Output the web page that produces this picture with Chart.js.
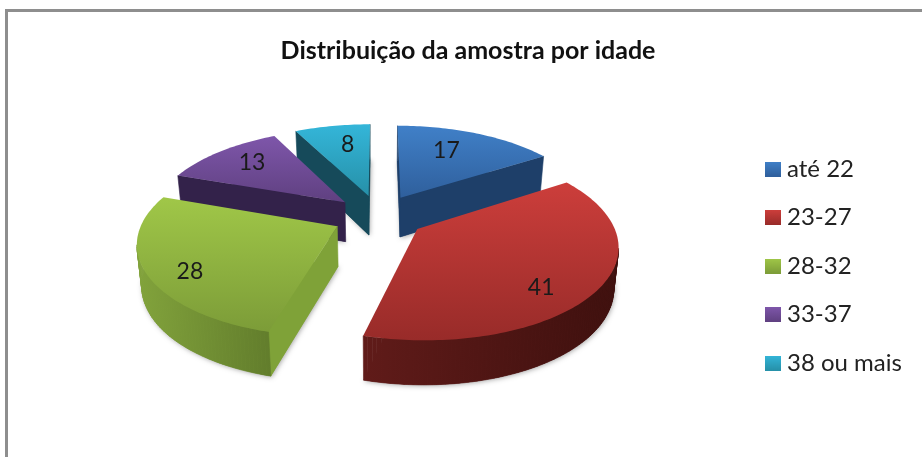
<!DOCTYPE html>
<html>
<head>
<meta charset="utf-8">
<script src="https://cdn.jsdelivr.net/npm/chart.js@4"></script>
<style>
html,body{margin:0;padding:0;background:#fff;overflow:hidden}
#wrap{position:relative;width:922px;height:457px}
canvas#c{position:absolute;left:0;top:0;filter:blur(.45px)}
#frame{position:absolute;left:5px;top:9px;right:-5px;bottom:-5px;border-top:3px solid #8e8e8e;border-left:3px solid #8e8e8e}
</style>
</head>
<body>
<div id="wrap"><canvas id="c" width="922" height="457"></canvas><div id="frame"></div></div>
<script>
const titleText = 'Distribuição da amostra por idade';
const categories = ['até 22', '23-27', '28-32', '33-37', '38 ou mais'];
const values = [17, 41, 28, 13, 8];

const legendColors = ['#3a70b5', '#b93533', '#8fb341', '#6c4a95', '#2aa3c2'];
const topLight  = ['#4080c8', '#cc3e3b', '#a0c748', '#7e56aa', '#34b6d9'];
const topDark   = ['#2f5f9c', '#982b29', '#7c9c38', '#5f4080', '#2690a8'];
const cutFace   = ['#1e3f69', '#601b19', '#7fa238', '#33224a', '#164a5a'];
const rimLeft   = ['#1e3f69', '#601b19', '#82a33c', '#33224a', '#164a5a'];
const rimRight  = ['#1e3f69', '#3e100e', '#526a24', '#33224a', '#164a5a'];
const labelNudge = [[-2,-7],[20,24],[-36,18],[-15,-8],[2,-7]];

// projection of the pie plane
const view = {cx:379, cy:216, a:193, b:89, p:0.16, explode:0.24};
const FONT = 'Lato, Carlito, sans-serif';

function project(X, Y){
  const s = 1/(1 - view.p*Y);
  return {x:view.cx + view.a*X*s, y:view.cy + view.b*Y*s, Y};
}
function lower(P){
  return {x:view.cx + (P.x-view.cx)*0.98, y:P.y + 40 + 4*P.Y};
}
function legendSwatch(i){
  const cv=document.createElement('canvas');
  cv.width=16; cv.height=15;
  const g=cv.getContext('2d');
  const gr=g.createLinearGradient(0,0,0,15);
  gr.addColorStop(0,topLight[i]); gr.addColorStop(1,topDark[i]);
  g.fillStyle=gr; g.fillRect(0,0,16,15);
  return cv;
}

const pie3d = {
  id:'pie3d',
  afterLayout(chart){
    const t = chart.titleBlock;
    t.left = 14; t.right = 922;
    const l = chart.legend;
    const w = l.width, h = l.height;
    const pad = l.options.labels.padding;
    l.left = 771 - pad; l.right = l.left + w;
    l.top = 266 - h/2; l.bottom = 266 + h/2;
    l.adjustHitBoxes();
  },
  beforeDatasetsDraw(chart){
    const ctx = chart.ctx;
    const arcs = chart.getDatasetMeta(0).data;
    const slices = arcs.map((arc,i)=>{
      const a0 = arc.startAngle, a1 = arc.endAngle, mid = (a0+a1)/2;
      const ox = Math.cos(mid)*view.explode, oy = Math.sin(mid)*view.explode;
      const apex = project(ox,oy);
      const rim = [];
      const n = Math.max(8, Math.ceil((a1-a0)/0.02));
      for(let k=0;k<=n;k++){
        const t = a0 + (a1-a0)*k/n;
        rim.push(project(ox+Math.cos(t), oy+Math.sin(t)));
      }
      return {i,mid,ox,oy,apex,rim};
    });
    slices.sort((p,q)=>Math.sin(p.mid)-Math.sin(q.mid));

    for(const s of slices){
      const {i,apex,rim} = s;
      const outline = [apex,...rim];
      const xs = outline.map(p=>p.x), ys = outline.map(p=>p.y);
      const xmin=Math.min(...xs), xmax=Math.max(...xs), ymin=Math.min(...ys), ymax=Math.max(...ys);

      // soft shadow under the extruded body
      ctx.save();
      ctx.shadowColor='rgba(0,0,0,.35)'; ctx.shadowBlur=5; ctx.shadowOffsetX=1; ctx.shadowOffsetY=1;
      ctx.fillStyle=cutFace[i];
      ctx.beginPath();
      outline.map(lower).forEach((p,k)=>k?ctx.lineTo(p.x,p.y):ctx.moveTo(p.x,p.y));
      ctx.closePath(); ctx.fill();
      ctx.restore();

      const quad=(P,Q,style)=>{
        if(Q.x-P.x>=0) return;
        const P2=lower(P), Q2=lower(Q);
        ctx.fillStyle=style; ctx.strokeStyle=style; ctx.lineWidth=.6;
        ctx.beginPath();
        ctx.moveTo(P.x,P.y);ctx.lineTo(Q.x,Q.y);ctx.lineTo(Q2.x,Q2.y);ctx.lineTo(P2.x,P2.y);
        ctx.closePath();ctx.fill();ctx.stroke();
      };
      quad(apex,rim[0],cutFace[i]);
      quad(rim[rim.length-1],apex,cutFace[i]);
      const rg=ctx.createLinearGradient(xmin,0,xmax,0);
      rg.addColorStop(0,rimLeft[i]); rg.addColorStop(1,rimRight[i]);
      for(let k=0;k<rim.length-1;k++) quad(rim[k],rim[k+1],rg);

      const tg=ctx.createLinearGradient(0,ymin,0,ymax);
      tg.addColorStop(0,topLight[i]); tg.addColorStop(1,topDark[i]);
      ctx.fillStyle=tg;
      ctx.beginPath();
      outline.forEach((p,k)=>k?ctx.lineTo(p.x,p.y):ctx.moveTo(p.x,p.y));
      ctx.closePath();ctx.fill();
    }

    // value labels
    ctx.fillStyle='#1a1a1a';
    ctx.font='23px '+FONT;
    ctx.textAlign='center'; ctx.textBaseline='middle';
    for(const s of slices){
      const p=project(s.ox+0.6*Math.cos(s.mid), s.oy+0.6*Math.sin(s.mid));
      ctx.fillText(String(values[s.i]), p.x+labelNudge[s.i][0], p.y+labelNudge[s.i][1]);
    }
    return false;
  }
};

new Chart(document.getElementById('c'),{
  type:'pie',
  data:{labels:categories,datasets:[{data:values,backgroundColor:legendColors,borderWidth:0}]},
  options:{
    responsive:false,
    animation:false,
    layout:{padding:0},
    plugins:{
      title:{display:true,text:titleText,color:'#111',font:{family:FONT,size:25,weight:'bold'},padding:{top:36,bottom:10}},
      legend:{
        position:'right',
        labels:{
          usePointStyle:true,pointStyleWidth:4,boxHeight:15,padding:24.5,color:'#222',font:{family:FONT,size:24},
          generateLabels(chart){
            return categories.map((text,i)=>({text,index:i,pointStyle:legendSwatch(i),fillStyle:legendColors[i],strokeStyle:legendColors[i],lineWidth:0,fontColor:'#222',hidden:false}));
          }
        }
      },
      tooltip:{enabled:false}
    }
  },
  plugins:[pie3d]
});
</script>
</body>
</html>
